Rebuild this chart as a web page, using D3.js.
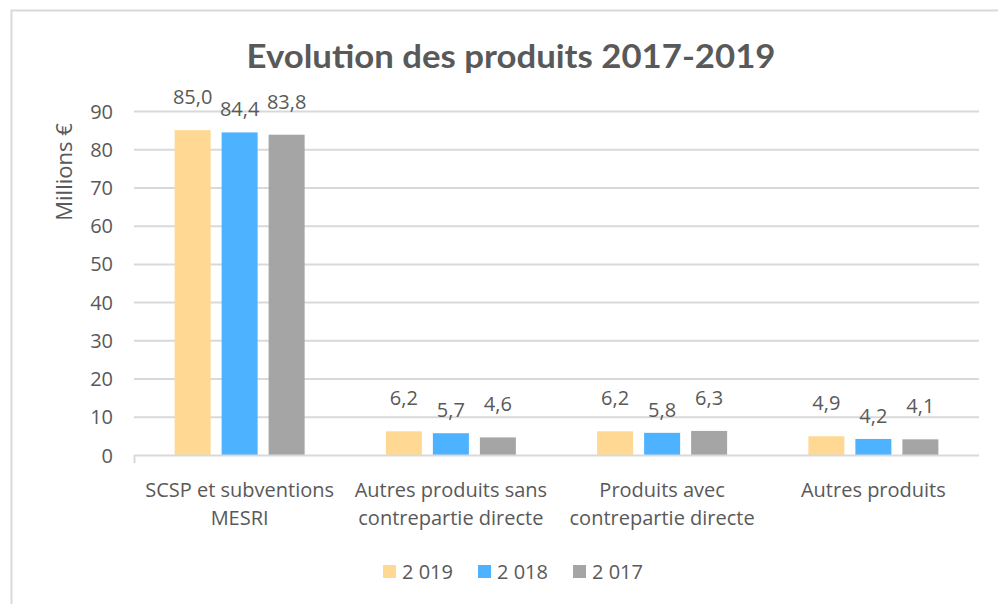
<!DOCTYPE html>
<html><head><meta charset="utf-8">
<script src="https://cdn.jsdelivr.net/npm/d3@7"></script>
<style>body{margin:0;background:#fff;}svg{display:block;}text{font-family:"Open Sans",Lato,sans-serif;fill:#595959;}</style>
</head><body>
<svg id="c" width="998" height="604"></svg>
<script>
const categories = [["SCSP et subventions","MESRI"],["Autres produits sans","contrepartie directe"],["Produits avec","contrepartie directe"],["Autres produits"]];
const seriesNames = ["2 019","2 018","2 017"];
const values2019 = [85.0, 6.2, 6.2, 4.9];
const values2018 = [84.4, 5.7, 5.8, 4.2];
const values2017 = [83.8, 4.6, 6.3, 4.1];
const yTicks = [0,10,20,30,40,50,60,70,80,90];
const colors = ["#FFD993","#4DB2FF","#A5A5A5"];
const series = [values2019, values2018, values2017];

const FS = 20;
const svg = d3.select("#c");
svg.append("rect").attr("x",11.5).attr("y",10.5).attr("width",1000).attr("height",620)
  .attr("fill","none").attr("stroke","#D9D9D9").attr("stroke-width",2);

const x0 = d3.scaleBand().domain(d3.range(categories.length)).range([134,979]);
const x1 = d3.scaleBand().domain(d3.range(series.length)).range([0,130]).paddingInner(0.234);
const y = d3.scaleLinear().domain([0,90]).range([455,111]);

svg.append("g").selectAll("line").data(yTicks.filter(d=>d>0)).join("line")
  .attr("x1",134).attr("x2",979).attr("y1",d=>y(d)+0.5).attr("y2",d=>y(d)+0.5)
  .attr("stroke","#D9D9D9").attr("stroke-width",2);

const yAxis = d3.axisLeft(y).tickValues(yTicks).tickSize(0).tickPadding(0).tickFormat(d3.format("d"));
const ga = svg.append("g").attr("transform","translate(113,0)").call(yAxis);
ga.select(".domain").remove();
ga.selectAll("text").attr("font-size",FS).attr("fill","#595959").attr("dy","0.35em").style("font-family","'Open Sans', sans-serif");

const groupOffset = (x0.bandwidth()-130)/2;
const g = svg.append("g");
series.forEach((vals,si)=>{
  g.selectAll(".b"+si).data(vals).join("rect")
    .attr("x",(d,i)=>x0(i)+groupOffset+x1(si))
    .attr("y",d=>y(d))
    .attr("width",x1.bandwidth())
    .attr("height",d=>y(0)-y(d))
    .attr("fill",colors[si]);
  g.selectAll(".l"+si).data(vals).join("text")
    .attr("x",(d,i)=>x0(i)+groupOffset+x1(si)+x1.bandwidth()/2)
    .attr("y",d=>y(d)-(si===1?16:26))
    .attr("text-anchor","middle").attr("font-size",FS)
    .text(d=>d3.format(".1f")(d).replace(".",","));
});

svg.append("line").attr("x1",134).attr("x2",979).attr("y1",455.5).attr("y2",455.5).attr("stroke","#D9D9D9").attr("stroke-width",2);
svg.append("line").attr("x1",134.5).attr("x2",134.5).attr("y1",455).attr("y2",463).attr("stroke","#D9D9D9").attr("stroke-width",2);

categories.forEach((lines,i)=>{
  const cx = x0(i)+x0.bandwidth()/2;
  const t = svg.append("text").attr("x",cx).attr("y",497).attr("text-anchor","middle").attr("font-size",FS);
  lines.forEach((ln,j)=>t.append("tspan").attr("x",cx).attr("dy",j?28:0).text(ln));
});

svg.append("text").attr("transform","translate(72,172) rotate(-90)").attr("text-anchor","middle").attr("font-size",22).text("Millions €");

svg.append("text").attr("x",511).attr("y",68).attr("text-anchor","middle").attr("font-size",32).attr("font-weight","bold")
  .style("font-family","Lato, sans-serif")
  .attr("textLength",529).attr("lengthAdjust","spacingAndGlyphs").text("Evolution des produits 2017-2019");

const legX = [383,478,573];
seriesNames.forEach((n,i)=>{
  svg.append("rect").attr("x",legX[i]).attr("y",565).attr("width",13).attr("height",13).attr("fill",colors[i]);
  svg.append("text").attr("x",legX[i]+19).attr("y",579).attr("font-size",FS).text(n);
});
</script>
</body></html>
